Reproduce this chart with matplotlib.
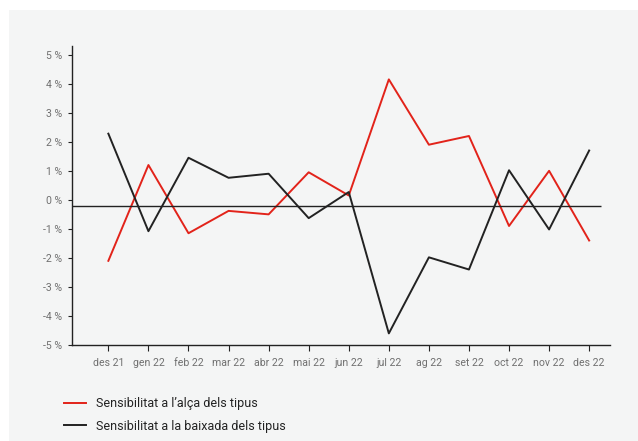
import matplotlib
matplotlib.use("Agg")
import matplotlib.pyplot as plt
from matplotlib.patches import Rectangle

plt.rcParams["font.family"] = ["Roboto", "DejaVu Sans"]

months = ["des 21", "gen 22", "feb 22", "mar 22", "abr 22", "mai 22", "jun 22",
          "jul 22", "ag 22", "set 22", "oct 22", "nov 22", "des 22"]
alca = [-2.1, 1.2, -1.15, -0.38, -0.5, 0.95, 0.15, 4.15, 1.9, 2.2, -0.9, 1.0, -1.4]
baixada = [2.28, -1.08, 1.45, 0.76, 0.9, -0.63, 0.27, -4.6, -1.98, -2.4, 1.02, -1.02, 1.7]
ref_level = -0.2
y_ticks = [5, 4, 3, 2, 1, 0, -1, -2, -3, -4, -5]

RED = "#E2231A"
BLACK = "#222222"
PANEL = "#F4F5F5"

fig = plt.figure(figsize=(6.38, 4.41), dpi=100)
fig.patch.set_facecolor("white")
fig.patches.append(Rectangle((9 / 638, 0), 1, 1 - 10 / 441, transform=fig.transFigure,
                             facecolor=PANEL, edgecolor="none", zorder=-10))

ax = fig.add_axes([71.5 / 638, 96 / 441, (610 - 71.5) / 638, (345 - 46) / 441])
ax.set_facecolor("none")

x = list(range(len(months)))
ax.plot(x, alca, color=RED, lw=1.4, label="Sensibilitat a l\u2019al\u00e7a dels tipus")
ax.plot(x, baixada, color=BLACK, lw=1.4, label="Sensibilitat a la baixada dels tipus")
ax.hlines(ref_level, -0.92, 12.3, color=BLACK, lw=1.0)

ax.set_xlim(-0.92, 12.52)
ax.set_ylim(-5, 5.3)

ax.set_xticks(x)
ax.set_xticklabels(months)
ax.set_yticks(y_ticks)
ax.set_yticklabels([f"{v} %" for v in y_ticks])

for s in ["top", "right"]:
    ax.spines[s].set_visible(False)
for s in ["left", "bottom"]:
    ax.spines[s].set_color(BLACK)
    ax.spines[s].set_linewidth(1.0)

ax.tick_params(axis="both", direction="out", color=BLACK, labelcolor="#707070",
               labelsize=7.6)
ax.tick_params(axis="y", length=3, pad=4)
ax.tick_params(axis="x", length=4, pad=5)

fig.legend(loc="upper left", bbox_to_anchor=(53 / 638, 1 - 386 / 441), frameon=False,
           fontsize=9, handlelength=1.7, handletextpad=0.85, labelspacing=0.75,
           labelcolor=BLACK)

fig.savefig("out.png", dpi=100)
